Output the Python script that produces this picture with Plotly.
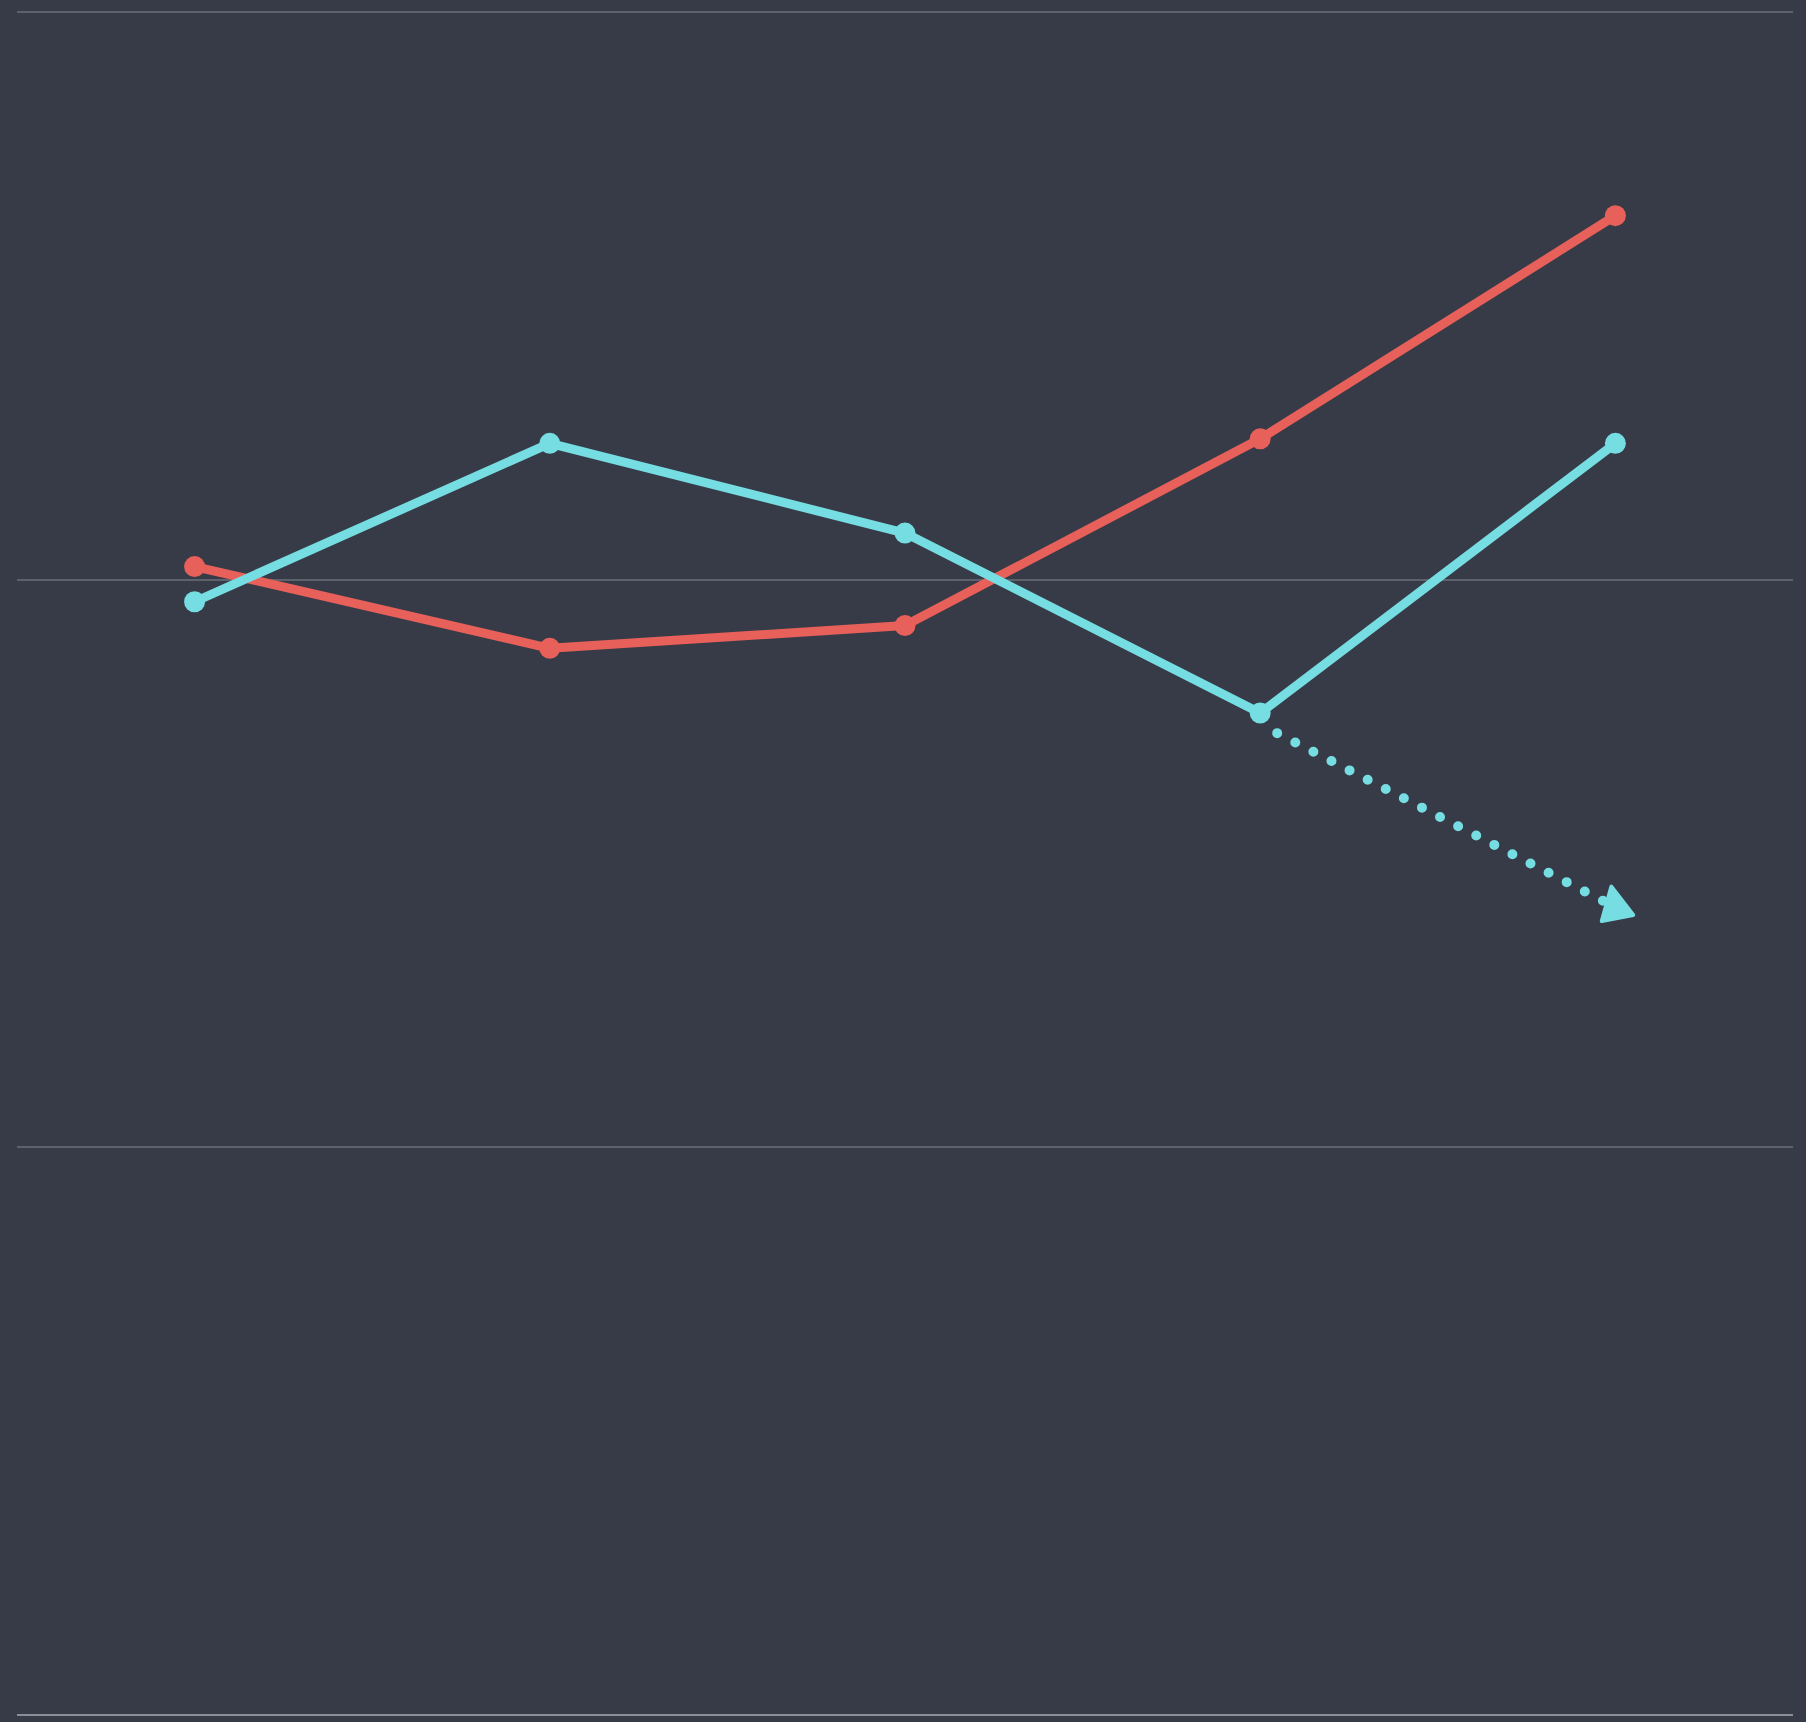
import plotly.graph_objects as go

# ---- data ----
categories = ["P1", "P2", "P3", "P4", "P5"]
red_values = [202.3, 187.9, 191.9, 224.8, 264.1]
cyan_values = [196.1, 224.0, 208.2, 176.5, 224.0]
projection_values = [None, None, None, 174.5, 142.3]
y_ticks = [0, 100, 200, 300]

RED = "#e8605a"
CYAN = "#76dde2"
BG = "#373b47"
GRID = "#5d616c"
AXIS = "#8b8e97"

fig = go.Figure()

fig.add_trace(go.Scatter(
    x=categories, y=red_values, mode="lines+markers",
    line=dict(color=RED, width=9),
    marker=dict(color=RED, size=21),
    hoverinfo="skip", showlegend=False,
))
fig.add_trace(go.Scatter(
    x=categories, y=cyan_values, mode="lines+markers",
    line=dict(color=CYAN, width=9),
    marker=dict(color=CYAN, size=21),
    hoverinfo="skip", showlegend=False,
))
# dotted projection
fig.add_trace(go.Scatter(
    x=categories, y=projection_values, mode="lines",
    line=dict(color=CYAN, width=10, dash="dot"),
    connectgaps=False,
    hoverinfo="skip", showlegend=False,
))
# arrow head at projection end
proj_end_x = [categories[-1]]
proj_end_y = [projection_values[-1]]
fig.add_trace(go.Scatter(
    x=proj_end_x, y=proj_end_y, mode="markers",
    marker=dict(symbol="arrow-down", angle=169, standoff=21, size=32,
                color=CYAN, line=dict(color=CYAN, width=4)),
    hoverinfo="skip", showlegend=False,
))

fig.update_layout(
    width=1806, height=1722,
    margin=dict(l=17, r=13, t=9, b=4),
    paper_bgcolor=BG, plot_bgcolor=BG,
    showlegend=False,
    hovermode=False,
)
fig.update_xaxes(
    type="category", range=[-0.5, 4.5],
    showgrid=False, zeroline=False, showticklabels=False, ticks="",
    showline=False,
)
fig.update_yaxes(
    range=[-0.5, 300.5], tickvals=y_ticks,
    showgrid=True, gridcolor=GRID, gridwidth=2,
    zeroline=True, zerolinecolor=AXIS, zerolinewidth=2,
    showticklabels=False, ticks="", showline=False,
)

post = """
document.documentElement.style.margin = '0';
document.documentElement.style.background = '%s';
document.body.style.margin = '0';
document.body.style.padding = '0';
document.body.style.background = '%s';
document.body.style.overflow = 'hidden';
var gd = document.getElementById('{plot_id}');
function fixStyles(){
  gd.querySelectorAll('path.js-line').forEach(function(p){
    p.style.strokeLinejoin = 'round';
    var d = p.style.strokeDasharray;
    if (d && d !== 'none' && d !== '') {
      p.style.strokeLinecap = 'round';
      p.style.strokeDasharray = '0px, 20.35px';
      p.style.strokeDashoffset = '1.25px';
    }
  });
  gd.querySelectorAll('path.point').forEach(function(p){
    p.style.strokeLinejoin = 'round';
  });
}
fixStyles();
gd.on('plotly_afterplot', fixStyles);
""" % (BG, BG)

fig.write_html("out.html", post_script=post, config={"displayModeBar": False, "staticPlot": True})
